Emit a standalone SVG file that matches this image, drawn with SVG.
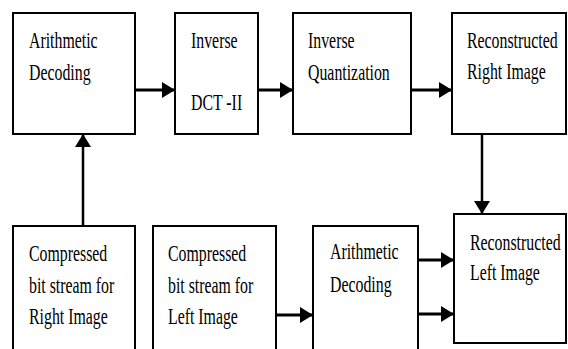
<svg xmlns="http://www.w3.org/2000/svg" width="568" height="349" viewBox="0 0 568 349">
  <defs>
    <marker id="head" markerUnits="userSpaceOnUse" markerWidth="14" markerHeight="16" refX="13" refY="8" orient="auto">
      <path d="M0,0 L13,8 L0,16 Z" fill="#000"/>
    </marker>
    <style>
      .box { fill: #fff; stroke: #000; stroke-width: 2; }
      .lbl { font-family: "Liberation Serif", "Times New Roman", Times, serif; font-size: 24px; fill: #000; }
      .wire { stroke: #000; stroke-width: 3; fill: none; marker-end: url(#head); }
      .vwire { stroke: #000; stroke-width: 2.5; fill: none; marker-end: url(#head); }
    </style>
  </defs>
  <rect width="568" height="349" fill="#fff"/>

  <!-- labels use a narrow, tall serif: scaled horizontally by 0.66 -->
  <g id="arith-decode-right">
    <rect class="box" x="13" y="13" width="122" height="121"/>
    <text class="lbl" transform="translate(29 48) scale(0.66 1)">Arithmetic</text>
    <text class="lbl" transform="translate(29 80) scale(0.66 1)">Decoding</text>
  </g>

  <g id="inverse-dct">
    <rect class="box" x="175" y="13" width="83" height="121"/>
    <text class="lbl" transform="translate(191 48) scale(0.66 1)">Inverse</text>
    <text class="lbl" transform="translate(191 110) scale(0.66 1)">DCT -II</text>
  </g>

  <g id="inverse-quant">
    <rect class="box" x="293" y="13" width="118" height="121"/>
    <text class="lbl" transform="translate(308 48) scale(0.66 1)">Inverse</text>
    <text class="lbl" transform="translate(308 80) scale(0.66 1)">Quantization</text>
  </g>

  <g id="recon-right">
    <rect class="box" x="452" y="13" width="114" height="121"/>
    <text class="lbl" transform="translate(467 48) scale(0.66 1)">Reconstructed</text>
    <text class="lbl" transform="translate(467 79) scale(0.66 1)">Right Image</text>
  </g>

  <g id="stream-right">
    <rect class="box" x="13" y="226" width="122" height="130"/>
    <text class="lbl" transform="translate(29 261) scale(0.66 1)">Compressed</text>
    <text class="lbl" transform="translate(29 293) scale(0.66 1)">bit stream for</text>
    <text class="lbl" transform="translate(29 324) scale(0.66 1)">Right Image</text>
  </g>

  <g id="stream-left">
    <rect class="box" x="153" y="226" width="123" height="130"/>
    <text class="lbl" transform="translate(168 261) scale(0.66 1)">Compressed</text>
    <text class="lbl" transform="translate(168 293) scale(0.66 1)">bit stream for</text>
    <text class="lbl" transform="translate(168 324) scale(0.66 1)">Left Image</text>
  </g>

  <g id="arith-decode-left">
    <rect class="box" x="313" y="226" width="105" height="130"/>
    <text class="lbl" transform="translate(330 259) scale(0.66 1)">Arithmetic</text>
    <text class="lbl" transform="translate(330 292) scale(0.66 1)">Decoding</text>
  </g>

  <g id="recon-left">
    <rect class="box" x="454" y="214" width="112" height="129"/>
    <text class="lbl" transform="translate(470 250) scale(0.66 1)">Reconstructed</text>
    <text class="lbl" transform="translate(470 280) scale(0.66 1)">Left Image</text>
  </g>

  <g id="connectors">
    <line class="wire" x1="135" y1="90" x2="175" y2="90"/>
    <line class="wire" x1="258" y1="90" x2="293" y2="90"/>
    <line class="wire" x1="411" y1="90" x2="452" y2="90"/>
    <line class="vwire" x1="83" y1="226" x2="83" y2="134"/>
    <line class="vwire" x1="482" y1="134" x2="482" y2="214"/>
    <line class="wire" x1="276" y1="315" x2="313" y2="315"/>
    <line class="wire" x1="418" y1="260" x2="454" y2="260"/>
    <line class="wire" x1="418" y1="314" x2="454" y2="314"/>
  </g>
</svg>
